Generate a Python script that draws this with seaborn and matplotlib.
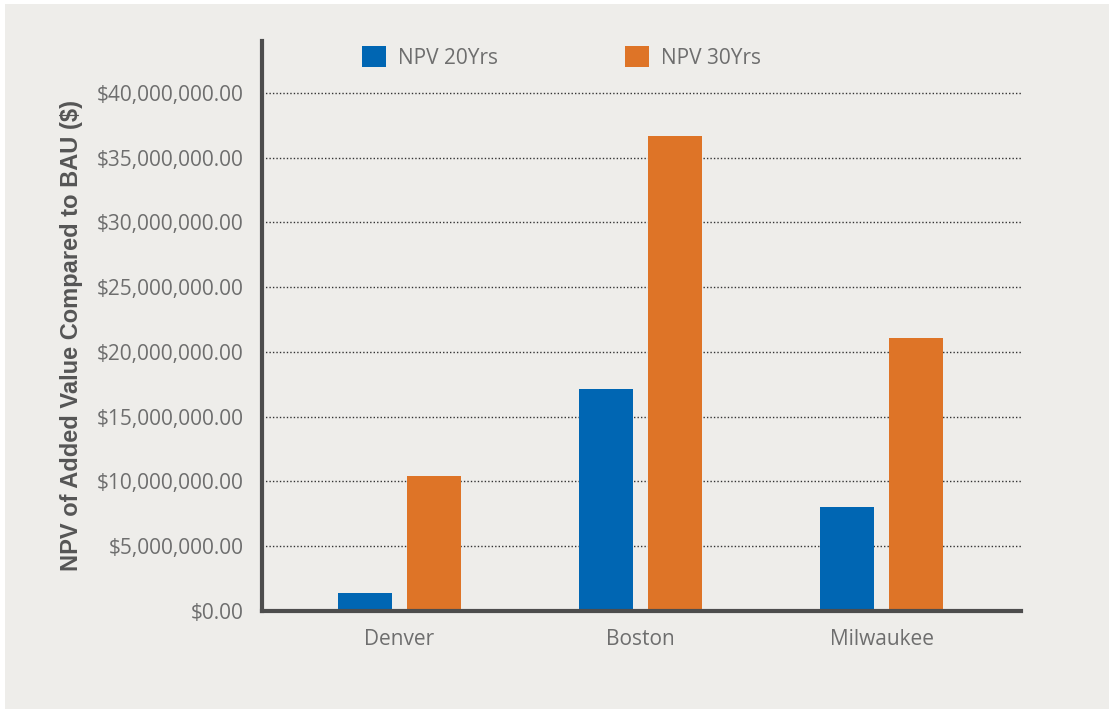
import matplotlib
matplotlib.use("Agg")
import matplotlib.pyplot as plt
import matplotlib.patches as mpatches
from matplotlib.ticker import FuncFormatter
import seaborn as sns
import pandas as pd

cities = ["Denver", "Boston", "Milwaukee"]
series = ["NPV 20Yrs", "NPV 30Yrs"]
npv_20 = [1.4e6, 17.1e6, 8.0e6]
npv_30 = [10.45e6, 36.7e6, 21.05e6]
y_ticks = [0, 5e6, 10e6, 15e6, 20e6, 25e6, 30e6, 35e6, 40e6]
y_label = "NPV of Added Value Compared to BAU ($)"

df = pd.DataFrame({
    "City": cities * 2,
    "Series": [series[0]] * 3 + [series[1]] * 3,
    "Value": npv_20 + npv_30,
})

BG = "#EEEDEA"
BLUE = "#0066B3"
ORANGE = "#DE7427"
SPINE = "#4D4D4D"
TXT = "#6E6E6E"

sns.set_theme(style="white")
plt.rcParams["font.family"] = ["Open Sans", "DejaVu Sans"]

fig = plt.figure(figsize=(11.09, 7.09), dpi=100, facecolor="white")
fig.patches.append(mpatches.Rectangle((5 / 1109, 0), 1 - 5 / 1109, 1 - 4 / 709,
                                      transform=fig.transFigure, facecolor=BG,
                                      edgecolor="none", zorder=-10))
ax = fig.add_axes([262 / 1109, 98 / 709, (1021 - 262) / 1109, (611 - 41) / 709])
ax.set_facecolor(BG)

sns.barplot(data=df, x="City", y="Value", hue="Series", order=cities,
            hue_order=series, palette=[BLUE, ORANGE], width=0.57, gap=0.22,
            saturation=1, ax=ax, legend=False, zorder=3, linewidth=0)

ax.set_xlim(-0.57, 2.578)
ax.set_ylim(0, 44e6)
ax.set_yticks(y_ticks)
ax.yaxis.set_major_formatter(FuncFormatter(lambda v, p: f"${v:,.2f}"))
ax.yaxis.grid(True, linestyle=(0, (1, 1.5)), color="#333333", linewidth=1.0, zorder=1)
ax.xaxis.grid(False)

for s in ["top", "right"]:
    ax.spines[s].set_visible(False)
for s in ["left", "bottom"]:
    ax.spines[s].set_color(SPINE)
    ax.spines[s].set_linewidth(3)
    ax.spines[s].set_zorder(5)

ax.tick_params(axis="both", length=0, labelsize=15, labelcolor=TXT)
ax.tick_params(axis="y", pad=13)
ax.tick_params(axis="x", pad=13)
ax.set_xlabel("")
ax.set_ylabel(y_label, fontsize=17, fontweight="bold", color="#555555",
              family=["Liberation Sans", "DejaVu Sans"])
ax.yaxis.set_label_coords(-0.236, 0.484)

handles = [mpatches.Patch(facecolor=BLUE, edgecolor="none"),
           mpatches.Patch(facecolor=ORANGE, edgecolor="none")]
ax.legend(handles, series, loc="upper left", bbox_to_anchor=(0.1175, 1.009), ncol=2,
          frameon=False, fontsize=15, labelcolor=TXT, handlelength=1.15,
          handleheight=1.15, handletextpad=0.58, columnspacing=6.1, borderaxespad=0.1)

fig.savefig("out.png", dpi=100, facecolor=fig.get_facecolor())
